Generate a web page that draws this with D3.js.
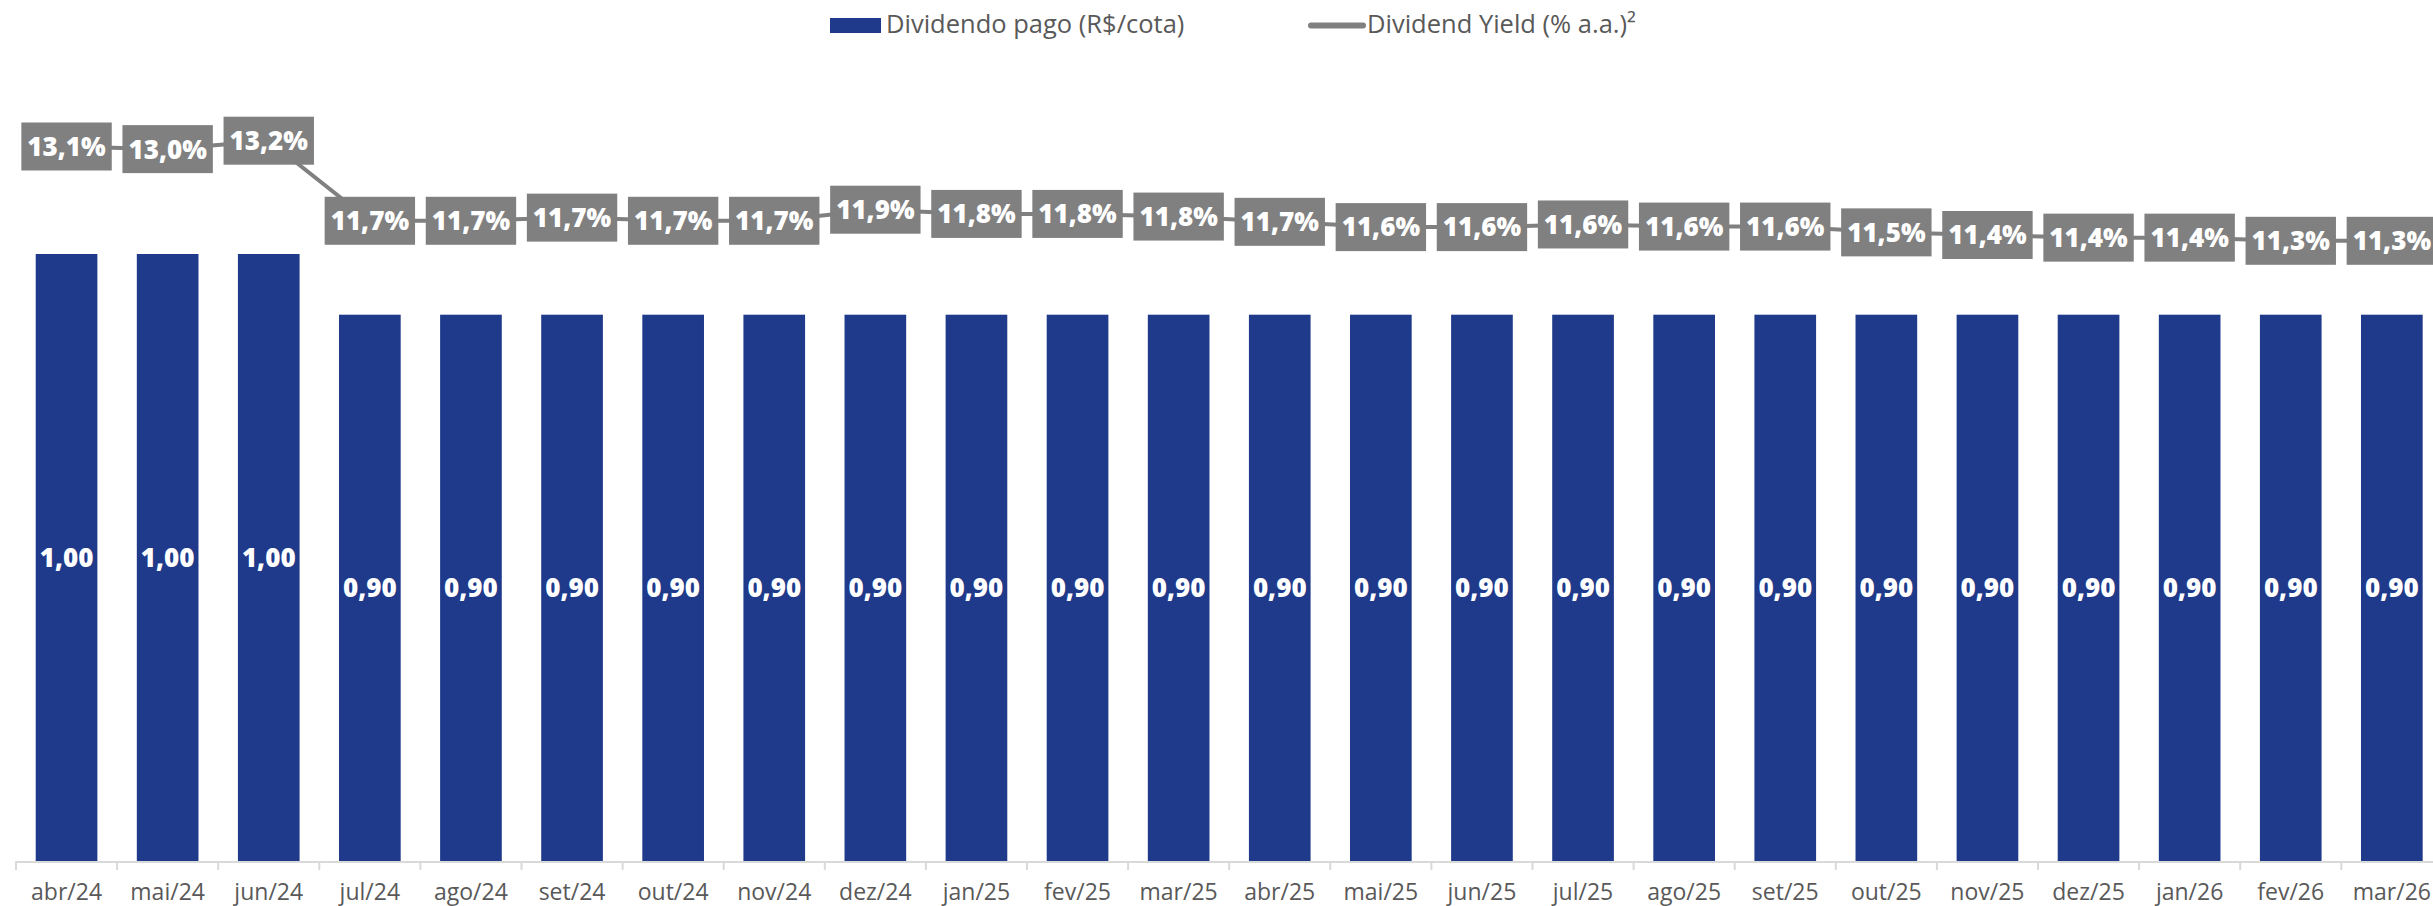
<!DOCTYPE html>
<html>
<head>
<meta charset="utf-8">
<script src="https://cdn.jsdelivr.net/npm/d3@7"></script>
<style>
  html, body { margin: 0; padding: 0; background: #fff; }
  svg { display: block; }
  text { font-family: "Open Sans", "Noto Sans", sans-serif; }
</style>
</head>
<body>
<svg id="chart" width="2433" height="906"></svg>
<script>
// ---- data ----
const categories = ["abr/24","mai/24","jun/24","jul/24","ago/24","set/24","out/24","nov/24","dez/24","jan/25","fev/25","mar/25","abr/25","mai/25","jun/25","jul/25","ago/25","set/25","out/25","nov/25","dez/25","jan/26","fev/26","mar/26"];
const dividendo = [1.00,1.00,1.00,0.90,0.90,0.90,0.90,0.90,0.90,0.90,0.90,0.90,0.90,0.90,0.90,0.90,0.90,0.90,0.90,0.90,0.90,0.90,0.90,0.90];
const dividendYield = [13.09,13.04,13.20,11.68,11.68,11.74,11.68,11.68,11.89,11.81,11.81,11.76,11.66,11.56,11.56,11.61,11.57,11.57,11.46,11.41,11.36,11.36,11.30,11.30];
const legendLabels = ["Dividendo pago (R$/cota)", "Dividend Yield (% a.a.)²"];

// ---- style ----
const barColor = "#1F3A8A";
const lineColor = "#808080";
const axisColor = "#D9D9D9";
const textColor = "#595959";

const svg = d3.select("#chart");

const x = d3.scaleBand()
  .domain(categories)
  .range([16, 16 + 24 * 101.1])
  .paddingInner(0.39)
  .paddingOuter(0.195);

const y = d3.scaleLinear().domain([0, 1]).range([861, 254]);
const y2 = d3.scaleLinear().domain([11.3, 13.2]).range([240.8, 140.7]);

const bw = x.bandwidth();
const step = x.step();
const fmt2 = v => v.toFixed(2).replace(".", ",");
const fmt1 = v => (Math.round(v * 10) / 10).toFixed(1).replace(".", ",") + "%";

// bars
svg.append("g").selectAll("rect")
  .data(dividendo)
  .join("rect")
  .attr("x", (d, i) => x(categories[i]))
  .attr("y", d => y(d))
  .attr("width", bw)
  .attr("height", d => y(0) - y(d))
  .attr("fill", barColor);

// bar labels
svg.append("g").selectAll("text")
  .data(dividendo)
  .join("text")
  .attr("x", (d, i) => x(categories[i]) + bw / 2)
  .attr("y", d => (y(d) + y(0)) / 2)
  .attr("dy", "0.36em")
  .attr("text-anchor", "middle")
  .attr("fill", "#fff")
  .attr("font-weight", 800)
  .attr("font-size", 26)
  .text(d => fmt2(d));

// axis
const axisG = svg.append("g");
const x0 = x.range()[0];
const x1 = x.range()[1];
axisG.append("line")
  .attr("x1", x0).attr("x2", x1)
  .attr("y1", y(0) + 1).attr("y2", y(0) + 1)
  .attr("stroke", axisColor).attr("stroke-width", 2);
axisG.selectAll("line.tick")
  .data(categories)
  .join("line")
  .attr("class", "tick")
  .attr("x1", d => x(d) - (step - bw) / 2)
  .attr("x2", d => x(d) - (step - bw) / 2)
  .attr("y1", y(0)).attr("y2", y(0) + 9)
  .attr("stroke", axisColor).attr("stroke-width", 2);
axisG.selectAll("text")
  .data(categories)
  .join("text")
  .attr("x", d => x(d) + bw / 2)
  .attr("y", 900)
  .attr("text-anchor", "middle")
  .attr("fill", textColor)
  .attr("font-size", 23)
  .text(d => d);

// line
const line = d3.line()
  .x((d, i) => x(categories[i]) + bw / 2)
  .y(d => y2(d));
svg.append("path")
  .datum(dividendYield)
  .attr("d", line)
  .attr("fill", "none")
  .attr("stroke", lineColor)
  .attr("stroke-width", 4);

// line labels (boxes)
const lbl = svg.append("g").selectAll("g")
  .data(dividendYield)
  .join("g")
  .attr("transform", (d, i) => `translate(${x(categories[i]) + bw / 2},${y2(d)})`);
lbl.append("rect").attr("fill", lineColor);
lbl.append("text")
  .attr("text-anchor", "middle")
  .attr("dy", "0.36em")
  .attr("fill", "#fff")
  .attr("font-weight", 800)
  .attr("font-size", 26)
  .text(d => fmt1(d));
lbl.each(function() {
  const g = d3.select(this);
  const w = g.select("text").node().getComputedTextLength();
  g.select("rect")
    .attr("x", -(w + 12) / 2)
    .attr("y", -24)
    .attr("width", w + 12)
    .attr("height", 48);
});

// legend
const leg = svg.append("g");
leg.append("rect")
  .attr("x", 830).attr("y", 18).attr("width", 51).attr("height", 15)
  .attr("fill", barColor);
leg.append("text")
  .attr("x", 886).attr("y", 33)
  .attr("fill", textColor).attr("font-size", 25.5)
  .text(legendLabels[0]);
leg.append("line")
  .attr("x1", 1311).attr("x2", 1363)
  .attr("y1", 25.5).attr("y2", 25.5)
  .attr("stroke", lineColor).attr("stroke-width", 6)
  .attr("stroke-linecap", "round");
leg.append("text")
  .attr("x", 1367).attr("y", 33)
  .attr("fill", textColor).attr("font-size", 25.5)
  .text(legendLabels[1]);
</script>
</body>
</html>
